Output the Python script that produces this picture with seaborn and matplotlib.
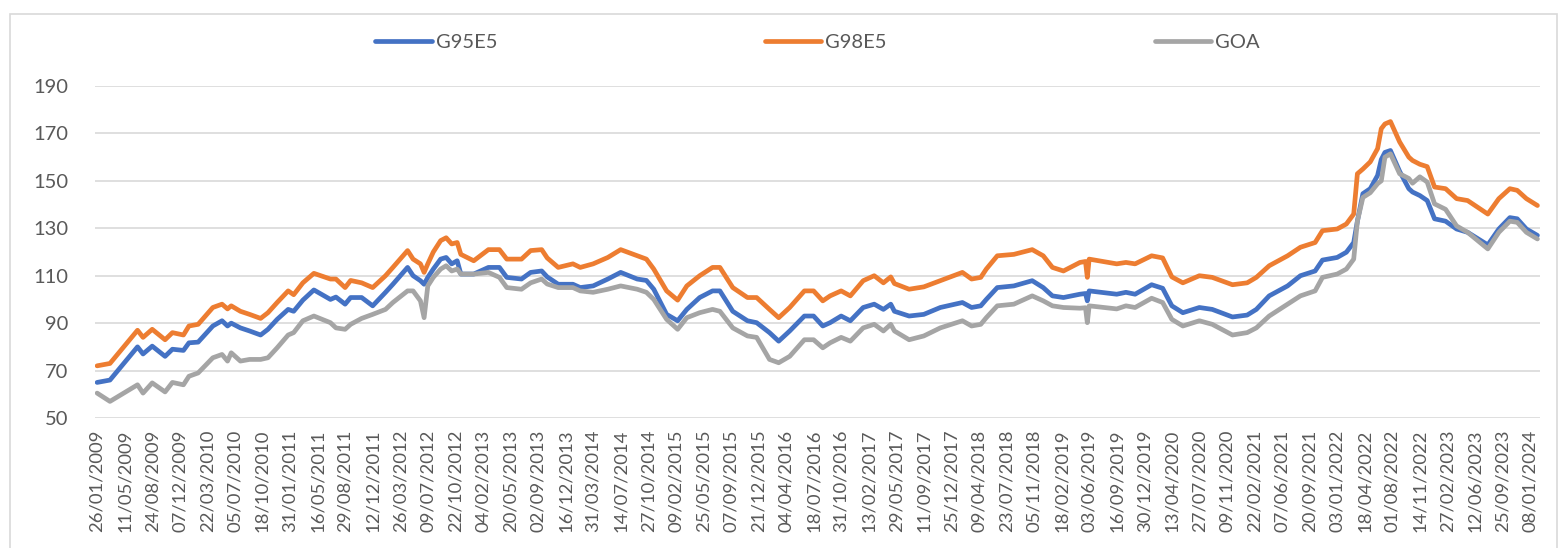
import pandas as pd
import numpy as np
import seaborn as sns
import matplotlib.pyplot as plt
from matplotlib.patches import Rectangle

# Datos semanales (semanas desde el 26/01/2009)
inicio = pd.Timestamp("2009-01-26")
semanas = [0, 7, 22, 25, 30, 37, 41, 47, 50, 55, 63, 68, 71, 73, 78, 83, 89, 93, 98, 104,
           107, 112, 118, 127, 130, 135, 138, 144, 150, 157, 161, 169, 172, 176, 178, 180, 183, 187, 190, 193,
           196, 198, 205, 213, 219, 223, 231, 236, 242, 245, 251, 259, 263, 270, 278, 285, 294, 299, 303, 310,
           316, 321, 328, 335, 339, 346, 354, 359, 366, 371, 377, 385, 390, 395, 399, 405, 410, 417, 423, 428,
           432, 434, 442, 450, 459, 471, 476, 481, 484, 490, 499, 509, 515, 520, 526, 535, 538, 539, 540, 555,
           560, 565, 574, 580, 585, 591, 600, 607, 618, 626, 631, 638, 648, 655, 663, 667, 675, 680, 684, 686,
           689, 693, 697, 699, 701, 704, 709, 714, 716, 720, 724, 728, 734, 740, 746, 757, 763, 769, 773, 778,
           784]

g98e5 = [72, 73, 87, 84, 87.4, 83, 86, 85, 88.8, 89.5, 96.6, 98, 96, 97.3, 95, 93.7, 92, 94.4, 98.7, 103.6,
         102, 107, 111, 108.6, 108.6, 105, 108, 107, 105, 110, 113.5, 120.6, 117, 115, 111.4, 115, 120, 124.8, 126, 123.4,
         124, 119, 116.3, 121, 121, 117, 117, 120.6, 121, 117.5, 113.5, 115, 113.5, 115, 117.7, 121, 118.4, 117, 112.8, 103.6,
         99.7, 105.7, 110, 113.5, 113.5, 105, 100.8, 100.8, 95.8, 92.3, 96.6, 103.6, 103.6, 99.4, 101.5, 103.6, 101.5, 107.9, 110, 107,
         109.5, 106.7, 104.3, 105.3, 107.9, 111.4, 108.6, 109.3, 112.8, 118.4, 119, 121, 118.4, 113.5, 112, 115.6, 116, 109.3, 117, 115,
         115.6, 115, 118.4, 117.5, 109.5, 107, 110, 109.3, 106.2, 107, 109.3, 114.2, 118.4, 122, 124, 129, 129.7, 131.8, 136, 153,
         155, 158, 163.6, 172, 174, 175, 166.4, 160, 158.6, 157, 156, 147.4, 146.7, 142.5, 141.7, 136, 142.5, 146.7, 146, 142.5,
         139.6]

g95e5 = [65, 66, 80, 77, 80.3, 76, 79, 78.5, 81.7, 82, 88.8, 91, 88.8, 90, 88, 86.7, 85, 87.4, 91.6, 95.8,
         95, 99.7, 104, 100, 101, 98, 100.8, 100.8, 97.3, 103, 106.4, 113.5, 110, 107.9, 106.4, 109.3, 112.8, 117, 117.7, 115,
         116.3, 110.7, 110.7, 113.5, 113.5, 109.3, 108.6, 111.4, 112, 109.5, 106.4, 106.4, 105, 105.7, 108.6, 111.4, 108.6, 108, 104.3, 93.7,
         91, 95.8, 100.8, 103.6, 103.6, 95, 91, 90.2, 86, 82.4, 86.7, 93, 93, 88.8, 90.2, 93, 91, 96.6, 98, 95.8,
         98, 95, 93, 93.7, 96.6, 98.7, 96.6, 97.3, 100, 105, 105.7, 107.9, 105, 101.5, 100.8, 102.2, 102.5, 99.4, 103.6, 102.2,
         103, 102.2, 106.2, 104.7, 97.3, 94.4, 96.6, 95.8, 92.6, 93.4, 95.8, 101.5, 105.7, 110, 112, 116.6, 117.7, 119.9, 124, 133,
         144.6, 146.7, 152.3, 159, 162, 162.8, 154, 146.7, 145.3, 143.8, 141.7, 134, 133, 129.7, 128.3, 123, 129.7, 134.5, 134, 129.7,
         127]

goa = [60.5, 57, 64, 60.5, 64.8, 61, 65, 64, 67.6, 69, 75.4, 76.8, 74, 77.5, 74, 74.7, 74.7, 75.4, 79.6, 85,
       86, 91, 93, 90.2, 88, 87.4, 89.5, 92, 93.7, 95.8, 98.7, 103.6, 103.6, 99.4, 92.3, 105.7, 109.3, 112.8, 114.2, 112,
       112.8, 110.7, 110.7, 111.4, 109.3, 105, 104.3, 107, 108.6, 106.5, 105, 105, 103.6, 103, 104.3, 105.7, 104.3, 103, 100, 91.6,
       87.4, 92.3, 94.4, 95.8, 95, 88, 84.6, 84, 74.7, 73.3, 76, 83, 83, 79.6, 81.7, 84, 82.4, 88, 89.5, 86.7,
       89.5, 86.7, 83, 84.6, 88, 91, 88.8, 89.5, 92.3, 97.3, 98, 101.5, 99.4, 97.3, 96.6, 96.3, 96.5, 90.2, 97.3, 96,
       97.3, 96.6, 100.5, 98.7, 91.6, 88.8, 91, 89.5, 85, 86, 88, 93, 98, 101.5, 103.6, 109.3, 110.7, 112.8, 117, 133,
       143, 145, 148.8, 150, 160, 161.4, 153, 151, 149, 151.7, 149.5, 140.3, 138, 131, 128.3, 121.3, 128.3, 133, 132.5, 128.3,
       125.5]

series = ["G95E5", "G98E5", "GOA"]
colores = {"G95E5": "#4472C4", "G98E5": "#ED7D31", "GOA": "#A5A5A5"}

fechas = inicio + pd.to_timedelta(np.array(semanas) * 7, unit="D")
df = pd.DataFrame({"Fecha": fechas, "G95E5": g95e5, "G98E5": g98e5, "GOA": goa})
largo = df.melt(id_vars="Fecha", var_name="Serie", value_name="Valor")

sns.set_style("white")
plt.rcParams["font.family"] = ["Lato", "DejaVu Sans"]

fig = plt.figure(figsize=(15.61, 5.48), dpi=100)
ax = fig.add_axes([95 / 1561, 1 - 418 / 548, 1445 / 1561, 332 / 548])

sns.lineplot(data=largo, x="Fecha", y="Valor", hue="Serie", hue_order=series,
             palette=colores, linewidth=3.4, ax=ax)

# Ejes
ax.set_ylim(50, 190)
ax.set_yticks(range(50, 191, 20))
ax.grid(axis="y", color="#D9D9D9", linewidth=1.2)
ax.grid(axis="x", visible=False)
for s in ax.spines.values():
    s.set_visible(False)

ticks = [inicio + pd.Timedelta(weeks=15 * i) for i in range(53)]
ax.set_xticks(ticks)
ax.set_xticklabels([t.strftime("%d/%m/%Y") for t in ticks], rotation=90)
ax.set_xlim(inicio - pd.Timedelta(days=8), inicio + pd.Timedelta(days=7 * 785.4))
ax.tick_params(axis="x", length=0, pad=8.5, labelsize=13.3, labelcolor="#595959")
ax.tick_params(axis="y", length=0, pad=19, labelsize=14.5, labelcolor="#595959")
ax.set_xlabel("")
ax.set_ylabel("")

leg = ax.legend(loc="center", bbox_to_anchor=(0.5, 1.1325), ncol=3, frameon=False,
                fontsize=14.5, handlelength=2.8, handletextpad=0.2, columnspacing=13.3)
for t in leg.get_texts():
    t.set_color("#595959")
for h in leg.get_lines():
    h.set_linewidth(3.4)

# Borde del gráfico
fig.patches.append(Rectangle((10 / 1561, -0.01), 1547 / 1561, 1 - 14 / 548 + 0.01,
                             transform=fig.transFigure, fill=False,
                             edgecolor="#D9D9D9", linewidth=1.2))

fig.savefig("out.png", dpi=100)
